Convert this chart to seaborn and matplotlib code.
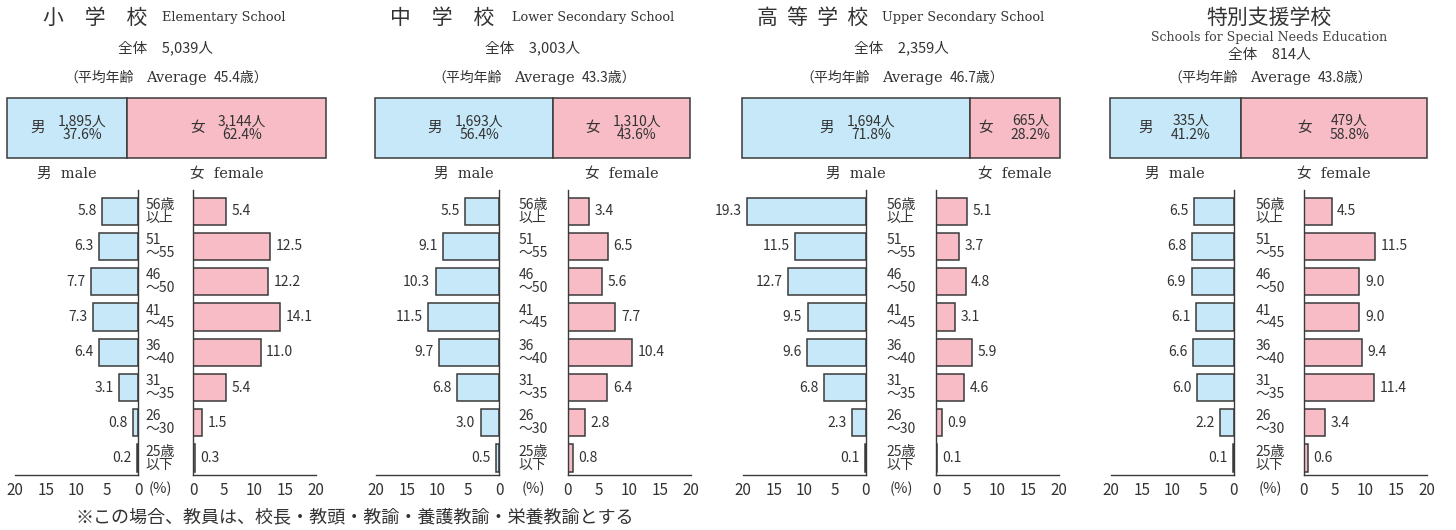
import matplotlib
matplotlib.use("Agg")
import matplotlib.pyplot as plt
import matplotlib.transforms as mtransforms
import seaborn as sns

# ---- data ----
schools_ja = ["小　学　校", "中　学　校", "高  等  学  校", "特別支援学校"]
schools_en = ["Elementary School", "Lower Secondary School", "Upper Secondary School",
              "Schools for Special Needs Education"]
totals = [5039, 3003, 2359, 814]
avg_age = [45.4, 43.3, 46.7, 43.8]
male_n = [1895, 1693, 1694, 335]
female_n = [3144, 1310, 665, 479]
male_pct = [37.6, 56.4, 71.8, 41.2]
female_pct = [62.4, 43.6, 28.2, 58.8]

age_groups = ["56歳\n以上", "51\n～55", "46\n～50", "41\n～45", "36\n～40", "31\n～35", "26\n～30", "25歳\n以下"]

male_elem = [5.8, 6.3, 7.7, 7.3, 6.4, 3.1, 0.8, 0.2]
female_elem = [5.4, 12.5, 12.2, 14.1, 11.0, 5.4, 1.5, 0.3]
male_lower = [5.5, 9.1, 10.3, 11.5, 9.7, 6.8, 3.0, 0.5]
female_lower = [3.4, 6.5, 5.6, 7.7, 10.4, 6.4, 2.8, 0.8]
male_upper = [19.3, 11.5, 12.7, 9.5, 9.6, 6.8, 2.3, 0.1]
female_upper = [5.1, 3.7, 4.8, 3.1, 5.9, 4.6, 0.9, 0.1]
male_special = [6.5, 6.8, 6.9, 6.1, 6.6, 6.0, 2.2, 0.1]
female_special = [4.5, 11.5, 9.0, 9.0, 9.4, 11.4, 3.4, 0.6]

male_series = [male_elem, male_lower, male_upper, male_special]
female_series = [female_elem, female_lower, female_upper, female_special]

x_ticks = [0, 5, 10, 15, 20]
footnote = "※この場合、教員は、校長・教頭・教諭・養護教諭・栄養教諭とする"

# ---- style ----
BLUE = "#c6e8f8"
PINK = "#f7bcc5"
EDGE = "#3a3a3a"
TXT = "#333333"
CJK = ["Noto Sans CJK JP", "DejaVu Sans"]
SERIF = ["DejaVu Serif", "Noto Sans CJK JP"]

sns.set_theme(style="white")
plt.rcParams["font.family"] = CJK
plt.rcParams["text.color"] = TXT

W, H = 1456, 530
fig = plt.figure(figsize=(W / 100, H / 100), dpi=100)


def rect(x, y, w, h):
    return [x / W, 1 - (y + h) / H, w / W, h / H]


def ftext(x, y, s, **kw):
    fig.text(x / W, 1 - y / H, s, va="center", **kw)


# layout (pixels)
male_x0 = [15, 376, 743, 1111]
female_x0 = [193, 568, 936, 1304]
axis_w = 123
bar_x0 = [7, 375, 742, 1110]
bar_x1 = [326, 690, 1060, 1427]
mid_x = [160, 533, 901, 1270]
head_cx = [165, 533, 901, 1269]
title_kanji_cx = [95, 442, 813]
title_en_x = [162, 512, 882]
pyr_top, pyr_h = 190, 285

for i in range(4):
    # ---- headings ----
    if i < 3:
        ftext(title_kanji_cx[i], 18, schools_ja[i], ha="center", fontsize=15, family=CJK)
        ftext(title_en_x[i], 18, schools_en[i], ha="left", fontsize=9.3, family=SERIF)
        ftext(head_cx[i], 48, f"全体　{totals[i]:,}人", ha="center", fontsize=10.5)
    else:
        ftext(head_cx[i], 18, schools_ja[i], ha="center", fontsize=15, family=CJK)
        ftext(head_cx[i], 37, schools_en[i], ha="center", fontsize=9.1, family=SERIF, color="#444444")
        ftext(head_cx[i], 55, f"全体　{totals[i]:,}人", ha="center", fontsize=10.5)
    cx = head_cx[i]
    ftext(cx - 31, 78, "（平均年齢", ha="right", fontsize=10)
    ftext(cx + 11, 78, "Average", ha="center", fontsize=10.5, family=SERIF)
    ftext(cx + 49, 78, f"{avg_age[i]}歳）", ha="left", fontsize=10)

    # ---- stacked gender bar ----
    axb = fig.add_axes(rect(bar_x0[i], 98, bar_x1[i] - bar_x0[i], 60))
    b1 = axb.barh([0], [male_pct[i]], height=1, color=BLUE, edgecolor=EDGE, linewidth=1.1)
    b2 = axb.barh([0], [female_pct[i]], left=[male_pct[i]], height=1, color=PINK,
                  edgecolor=EDGE, linewidth=1.1)
    for p in list(b1) + list(b2):
        p.set_clip_on(False)
    axb.set_xlim(0, 100)
    axb.set_ylim(-0.5, 0.5)
    axb.axis("off")
    mc = male_pct[i] / 2
    fc = male_pct[i] + female_pct[i] / 2
    for c, sym, n, pct in [(mc, "男", male_n[i], male_pct[i]), (fc, "女", female_n[i], female_pct[i])]:
        axb.annotate(sym, (c, 0), xytext=(-21, 0), textcoords="offset points",
                     ha="center", va="center", fontsize=10.5)
        axb.annotate(f"{n:,}人\n{pct}%", (c, 0), xytext=(11, 0), textcoords="offset points",
                     ha="center", va="center", fontsize=10, linespacing=1.0)
    # male / female labels under the bar, centred on each segment
    tr = mtransforms.blended_transform_factory(axb.transData, fig.transFigure)
    axb.text(mc, 1 - 174 / H, "男  male", transform=tr, ha="center", va="center",
             fontsize=10.5, family=SERIF)
    axb.text(fc, 1 - 174 / H, "女  female", transform=tr, ha="center", va="center",
             fontsize=10.5, family=SERIF)

    # ---- pyramid ----
    axm = fig.add_axes(rect(male_x0[i], pyr_top, axis_w, pyr_h))
    axf = fig.add_axes(rect(female_x0[i], pyr_top, axis_w, pyr_h))
    sns.barplot(x=male_series[i], y=age_groups, orient="h", ax=axm, color=BLUE,
                saturation=1, edgecolor=EDGE, linewidth=1.1, width=0.77)
    sns.barplot(x=female_series[i], y=age_groups, orient="h", ax=axf, color=PINK,
                saturation=1, edgecolor=EDGE, linewidth=1.1, width=0.77)
    axm.set_xlim(20, 0)
    axf.set_xlim(0, 20)
    for ax, side in [(axm, "right"), (axf, "left")]:
        ax.set_ylim(7.48, -0.6)
        ax.set_xticks(x_ticks)
        ax.set_xticklabels([str(t) for t in x_ticks])
        ax.tick_params(axis="x", length=0, pad=5, labelsize=11, labelcolor=TXT)
        ax.set_yticks([])
        ax.set_ylabel("")
        ax.set_xlabel("")
        for s in ["top", "left", "right"]:
            ax.spines[s].set_visible(s == side)
        for s in ["bottom", side]:
            ax.spines[s].set_color(EDGE)
            ax.spines[s].set_linewidth(1.0)
        ax.patch.set_alpha(0)
        ax.bar_label(ax.containers[0], fmt="%.1f", padding=4, fontsize=10, color=TXT)

    # age group labels between the two halves
    tr = mtransforms.blended_transform_factory(fig.transFigure, axm.transData)
    for k, lab in enumerate(age_groups):
        axm.text(mid_x[i] / W, k, lab, transform=tr, ha="center", va="center",
                 multialignment="left", fontsize=10, linespacing=0.9, clip_on=False)
    ftext(mid_x[i], 489, "(%)", ha="center", fontsize=10.5)

ftext(75, 517, footnote, ha="left", fontsize=13)

fig.savefig("out.png", dpi=100)
